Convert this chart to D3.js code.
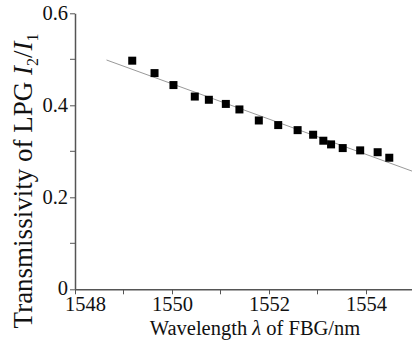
<!DOCTYPE html>
<html><head><meta charset="utf-8">
<script src="https://cdn.jsdelivr.net/npm/d3@7"></script>
<style>body{margin:0;background:#fff}svg{display:block}</style>
</head><body>
<svg id="c" width="412" height="340"></svg>
<script>
const wavelength = [1549.18,1549.64,1550.03,1550.47,1550.76,1551.11,1551.39,1551.79,1552.19,1552.59,1552.91,1553.12,1553.28,1553.52,1553.88,1554.24,1554.48];
const transmissivity = [0.497,0.470,0.444,0.419,0.412,0.403,0.391,0.367,0.357,0.346,0.336,0.323,0.315,0.307,0.302,0.298,0.286];
const fitX = [1548.65,1555.0];
const fitY = [0.4985,0.255];
const xTicks = [1548,1550,1552,1554];
const xMinor = [1549,1551,1553];
const yTicks = [0,0.2,0.4,0.6];
const yMinor = [0.1,0.3,0.5];

const svg = d3.select("#c");
const font = "'Liberation Serif','Times New Roman',serif";
const x = d3.scaleLinear().domain([1548,1555]).range([75,414.5]);
const y = d3.scaleLinear().domain([0,0.6]).range([289.3,13.3]);
const axisColor = "#555";

// fit line
svg.append("path")
  .datum(fitX.map((d,i)=>[d,fitY[i]]))
  .attr("d", d3.line().x(d=>x(d[0])).y(d=>y(d[1])))
  .attr("fill","none").attr("stroke","#999").attr("stroke-width",1);

// x axis
const gx = svg.append("g").attr("transform",`translate(0,${y(0)})`)
  .call(d3.axisBottom(x).tickValues(xTicks).tickFormat(d3.format("d")).tickSize(5).tickSizeOuter(0));
gx.append("g").selectAll("line").data(xMinor).join("line")
  .attr("x1",d=>x(d)).attr("x2",d=>x(d)).attr("y1",0).attr("y2",5);
// y axis
const gy = svg.append("g").attr("transform",`translate(${x(1548)},0)`)
  .call(d3.axisLeft(y).tickValues(yTicks).tickFormat(d=>d===0?"0":d3.format(".1f")(d)).tickSize(5).tickSizeOuter(0));
gy.append("g").selectAll("line").data(yMinor).join("line")
  .attr("y1",d=>y(d)).attr("y2",d=>y(d)).attr("x1",0).attr("x2",-5);

[gx,gy].forEach(g=>{
  g.select(".domain").attr("stroke",axisColor).attr("stroke-width",1.5);
  g.selectAll("line").attr("stroke",axisColor).attr("stroke-width",1);
  g.selectAll("text").attr("font-family",font).attr("font-size",20.5).attr("fill","#111");
});
gx.selectAll(".tick text").attr("dy","0.86em").attr("y",4)
  .attr("x",d=>d===1548?10:0);
gy.selectAll(".tick text").attr("x",-7).attr("dy",d=>d===0?"0.25em":"0.32em");

// points
const s = 8;
svg.append("g").selectAll("rect").data(wavelength).join("rect")
  .attr("x",(d)=>x(d)-s/2).attr("y",(d,i)=>y(transmissivity[i])-s/2)
  .attr("width",s).attr("height",s).attr("fill","#000");

// x title
const xt = svg.append("text").attr("x",255).attr("y",335).attr("text-anchor","middle")
  .attr("font-family",font).attr("font-size",20.5).attr("fill","#111");
xt.append("tspan").text("Wavelength ");
xt.append("tspan").attr("font-style","italic").text("λ");
xt.append("tspan").text(" of FBG/nm");

// y title
const yt = svg.append("text").attr("transform","translate(32,181) rotate(-90)").attr("text-anchor","middle")
  .attr("font-family",font).attr("font-size",27).attr("fill","#111");
yt.append("tspan").text("Transmissivity of LPG ");
yt.append("tspan").attr("font-style","italic").text("I");
yt.append("tspan").attr("font-size",16).attr("dy",6).text("2");
yt.append("tspan").attr("dy",-6).text("/");
yt.append("tspan").attr("font-style","italic").text("I");
yt.append("tspan").attr("font-size",16).attr("dy",6).text("1");
</script>
</body></html>
